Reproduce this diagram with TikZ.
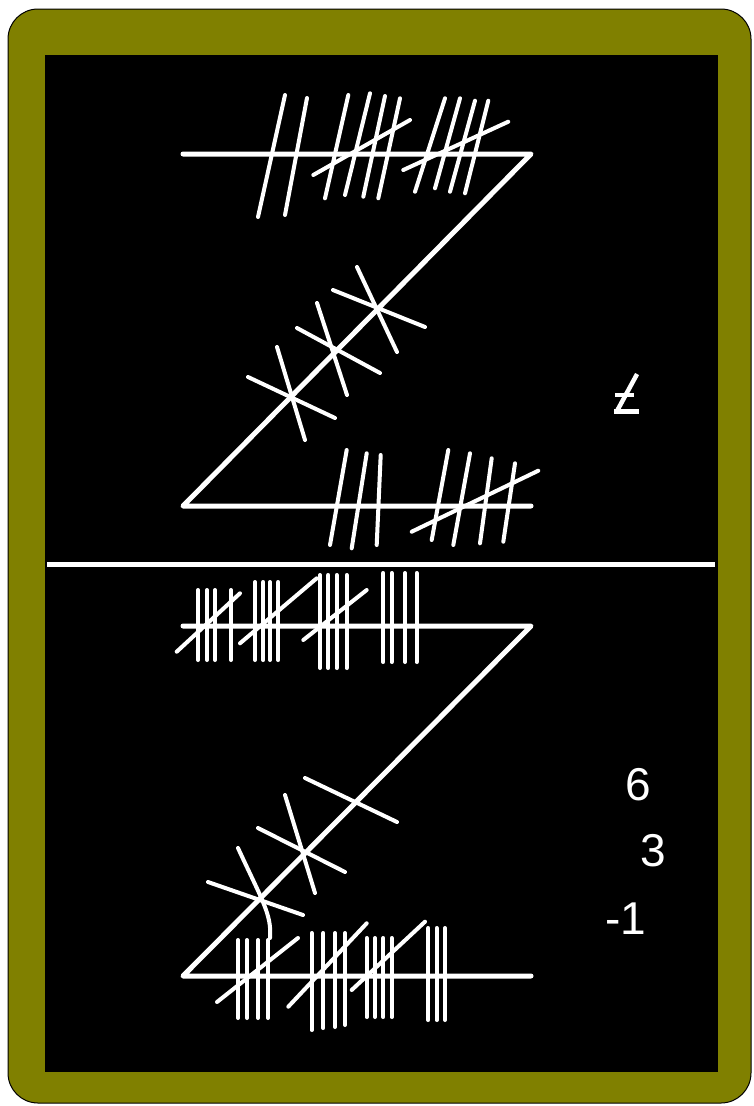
\documentclass[tikz,border=0pt]{standalone}
\usepackage{fontspec}
\setmainfont{Liberation Sans}
\definecolor{olivebg}{RGB}{128,128,0}
\begin{document}
\begin{tikzpicture}[x=1pt,y=-1pt,
  zline/.style={white,line width=5pt,line cap=round,line join=round},
  tally/.style={white,line width=4pt,line cap=round},
  glyph/.style={white,line width=4.5pt,line cap=rect},
  numtext/.style={white,inner sep=0pt,font=\fontsize{46}{50}\selectfont}]
\useasboundingbox (0,0) rectangle (753,1106);
\fill[white] (0,0) rectangle (753,1106);
\filldraw[fill=olivebg,draw=black,line width=1pt,rounded corners=30pt] (8,9) rectangle (751,1103);
\fill[black] (45,55) rectangle (718,1072);
% divider
\draw[white,line width=4.5pt] (47,564.5) -- (715,564.5);
% top Z
\coordinate (a1) at (183,154); \coordinate (a2) at (531,154);
\coordinate (a3) at (183,506); \coordinate (a4) at (531,506);
\draw[zline] (a1) -- (a2) -- (a3) -- (a4);
% top Z, top line tallies
\draw[tally] (285,95)--(258,217);
\draw[tally] (307,98)--(285,215);
\draw[tally] (348.3,95)--(325,198.3);
\draw[tally] (370,93.3)--(345,195);
\draw[tally] (385,96)--(363.3,196.7);
\draw[tally] (400,98.3)--(378.3,198.3);
\draw[tally] (313.3,175)--(410,120);
\draw[tally] (445,98.3)--(415,191.7);
\draw[tally] (460,98.3)--(435,188.3);
\draw[tally] (475,100.7)--(450,191.7);
\draw[tally] (488.3,100.7)--(465,193.3);
\draw[tally] (403.3,170)--(508.3,121.7);
% top Z, diagonal crosses
\draw[tally] (277,347)--(305,440);
\draw[tally] (248,377)--(335,418);
\draw[tally] (317,303)--(347,395);
\draw[tally] (297,328)--(380,373);
\draw[tally] (357,267)--(397,352);
\draw[tally] (333,290)--(425,327);
% top Z, bottom line tallies
\draw[tally] (346.7,450)--(330,545);
\draw[tally] (366.7,453.3)--(351.7,548.3);
\draw[tally] (380.7,455)--(376.7,545);
\draw[tally] (448.3,450)--(431.7,540);
\draw[tally] (470,453.3)--(453.3,545);
\draw[tally] (491.7,458.3)--(480,543.3);
\draw[tally] (515,463.3)--(503.3,541.7);
\draw[tally] (411.7,531.7)--(538.3,470.7);
% glyph at right of top Z
\draw[glyph] (636,376)--(617,411);
\draw[glyph] (617,395)--(632,395);
\draw[glyph] (616,411.5)--(637,411.5);
% bottom Z
\coordinate (b1) at (183,626); \coordinate (b2) at (531,626);
\coordinate (b3) at (183,976); \coordinate (b4) at (531,976);
\draw[zline] (b1) -- (b2) -- (b3) -- (b4);
% bottom Z, top line tallies
\foreach \x in {198,207,215,231} \draw[tally] (\x,590)--(\x,660);
\draw[tally] (176.7,651.7)--(240,593.3);
\foreach \x in {255,263.3,270,278.3} \draw[tally] (\x,582)--(\x,660);
\draw[tally] (240,643.3)--(316.7,578.3);
\foreach \x in {320,328.3,336.7,346.7} \draw[tally] (\x,575)--(\x,668);
\draw[tally] (303.3,640)--(366.7,590);
\foreach \x in {383.3,391.7,405,416.7} \draw[tally] (\x,573)--(\x,662);
% bottom Z, diagonal crosses
\draw[tally] (305,778)--(397,822);
\draw[tally] (285,795)--(315,893);
\draw[tally] (258,828)--(345,872);
\draw[tally] (238,848) .. controls (262,900) and (272,915) .. (270,938);
\draw[tally] (208,882)--(303,915);
% bottom Z, bottom line tallies
\foreach \x in {238,247,258,268} \draw[tally] (\x,940)--(\x,1018);
\draw[tally] (217,1002)--(298,938);
\foreach \x/\b in {311.7/1030,323.3/1028,335/1027,345/1025} \draw[tally] (\x,933)--(\x,\b);
\draw[tally] (288.3,1006.7)--(366.7,923.3);
\foreach \x in {366.7,375,383.3,391.7} \draw[tally] (\x,938)--(\x,1017);
\draw[tally] (351.7,990)--(425,921.7);
\foreach \x in {428.3,436.7,445} \draw[tally] (\x,928)--(\x,1020);
% numbers
\node[numtext] (n6) at (638,785) {6};
\node[numtext] (n3) at (653,851) {3};
\node[numtext] (nm1) at (626,919) {-1};
\end{tikzpicture}
\end{document}
